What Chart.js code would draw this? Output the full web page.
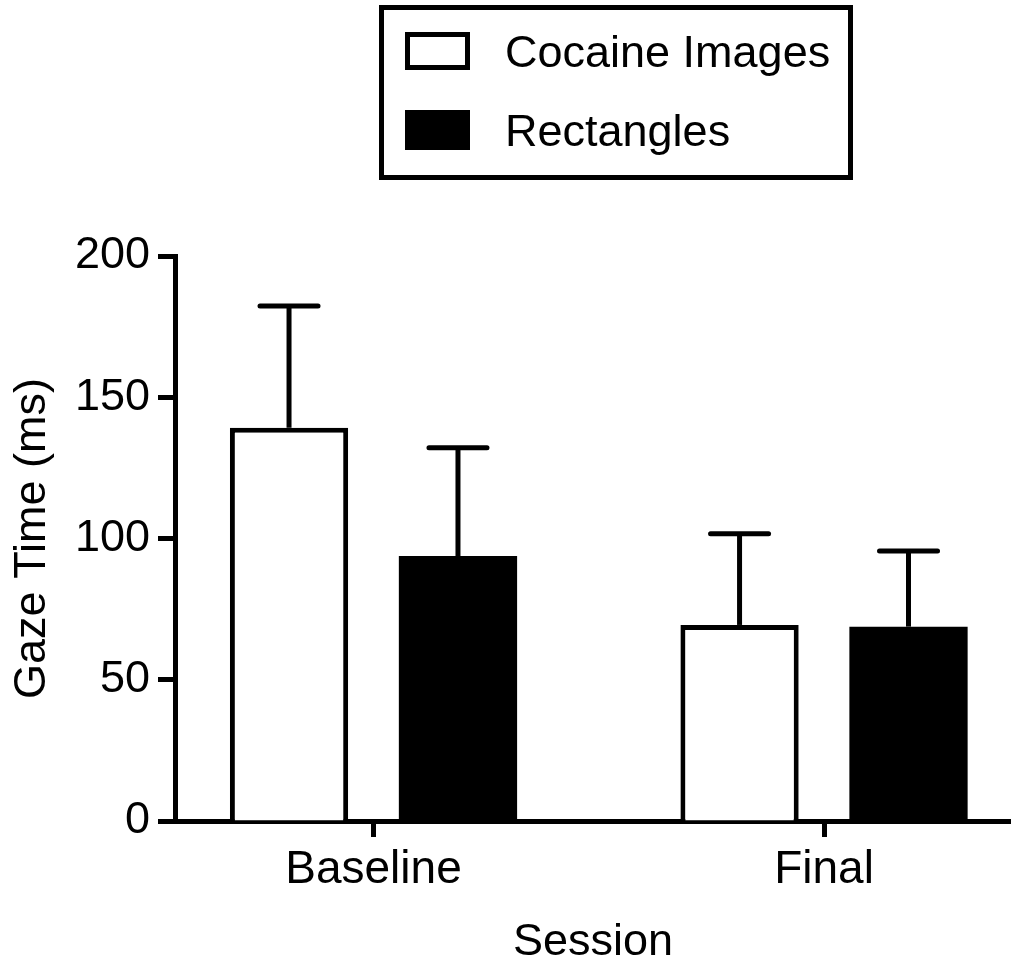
<!DOCTYPE html>
<html>
<head>
<meta charset="utf-8">
<script src="https://cdn.jsdelivr.net/npm/chart.js@4/dist/chart.umd.min.js"></script>
<style>
  html, body { margin: 0; padding: 0; background: #fff; }
  #wrap { position: relative; width: 1011px; height: 966px; }
  #legend {
    position: absolute; left: 379px; top: 5px; width: 474px; height: 175px;
    border: 5px solid #000; box-sizing: border-box;
  }
  .swatch { position: absolute; left: 21px; width: 65px; box-sizing: border-box; border: 5px solid #000; }
  .lbl {
    position: absolute; left: 121px; font-family: "Liberation Sans", Arial, sans-serif;
    font-size: 45px; line-height: 45px; white-space: nowrap; color: #000;
  }
</style>
</head>
<body>
<div id="wrap">
  <canvas id="gazeChart" width="1011" height="966"></canvas>
  <div id="legend"></div>
</div>
<script>
const categories = ['Baseline', 'Final'];
const seriesNames = ['Cocaine Images', 'Rectangles'];
const cocaineMean = [139.2, 69.4];
const cocaineErr = [43.1, 32.3];
const rectMean = [93.8, 68.8];
const rectErr = [38.3, 26.8];
const yTicks = [0, 50, 100, 150, 200];

const FONT = '"Liberation Sans", Arial, sans-serif';

// legend (html, sits above the plot like the original)
const legendEl = document.getElementById('legend');
const swatchStyle = [
  { top: 22, height: 38, bg: '#fff' },
  { top: 100, height: 40, bg: '#000' }
];
const labelTops = [19, 98];
seriesNames.forEach(function (name, i) {
  const sw = document.createElement('div');
  sw.className = 'swatch';
  sw.style.top = swatchStyle[i].top + 'px';
  sw.style.height = swatchStyle[i].height + 'px';
  sw.style.background = swatchStyle[i].bg;
  legendEl.appendChild(sw);
  const t = document.createElement('div');
  t.className = 'lbl';
  t.style.top = labelTops[i] + 'px';
  t.textContent = name;
  legendEl.appendChild(t);
});

const errorBars = {
  id: 'errorBars',
  afterDatasetsDraw(chart) {
    const ctx = chart.ctx;
    const yScale = chart.scales.y;
    const errs = [cocaineErr, rectErr];
    const means = [cocaineMean, rectMean];
    ctx.save();
    ctx.strokeStyle = '#000';
    ctx.lineWidth = 5;
    chart.data.datasets.forEach(function (ds, di) {
      const meta = chart.getDatasetMeta(di);
      meta.data.forEach(function (bar, i) {
        const x = bar.x;
        const yTop = yScale.getPixelForValue(means[di][i]);
        const yErr = yScale.getPixelForValue(means[di][i] + errs[di][i]);
        ctx.lineCap = 'butt';
        ctx.beginPath();
        ctx.moveTo(x, yTop);
        ctx.lineTo(x, yErr);
        ctx.stroke();
        ctx.lineCap = 'round';
        ctx.beginPath();
        ctx.moveTo(x - 29, yErr);
        ctx.lineTo(x + 29, yErr);
        ctx.stroke();
      });
    });
    ctx.restore();
  }
};

const ctx = document.getElementById('gazeChart').getContext('2d');

new Chart(ctx, {
  type: 'bar',
  data: {
    datasets: [{
      label: seriesNames[0],
      data: categories.map(function (c, i) { return { x: i, y: cocaineMean[i] }; }),
      backgroundColor: '#ffffff',
      borderColor: '#000000',
      borderWidth: 5
    }, {
      label: seriesNames[1],
      data: categories.map(function (c, i) { return { x: i, y: rectMean[i] }; }),
      backgroundColor: '#000000',
      borderColor: '#000000',
      borderWidth: 0
    }]
  },
  options: {
    responsive: false,
    animation: false,
    devicePixelRatio: 1,
    categoryPercentage: 0.75,
    barPercentage: 0.7,
    layout: { padding: { top: 256, left: 0, right: 0, bottom: 0 } },
    plugins: {
      legend: { display: false },
      tooltip: { enabled: false }
    },
    scales: {
      x: {
        type: 'linear',
        offset: false,
        min: -0.4406,
        max: 1.415,
        afterBuildTicks: function (scale) {
          scale.ticks = categories.map(function (c, i) { return { value: i }; });
        },
        afterFit: function (scale) { scale.height = 145; },
        grid: {
          display: true,
          offset: false,
          drawOnChartArea: false,
          drawTicks: true,
          tickLength: 16,
          tickWidth: 5,
          tickColor: '#000',
          color: '#000'
        },
        border: { display: true, width: 5, color: '#000' },
        ticks: {
          padding: 6,
          color: '#000',
          font: { family: FONT, size: 46 },
          callback: function (v) { return categories[v]; }
        },
        title: {
          display: true,
          text: 'Session',
          color: '#000',
          font: { family: FONT, size: 45, lineHeight: 1 },
          padding: { top: 0, bottom: 1 }
        }
      },
      y: {
        min: 0,
        max: 200,
        afterBuildTicks: function (scale) {
          scale.ticks = yTicks.map(function (v) { return { value: v }; });
        },
        afterFit: function (scale) { scale.width = 175; },
        grid: {
          display: true,
          drawOnChartArea: false,
          drawTicks: true,
          tickLength: 17,
          tickWidth: 5,
          tickColor: '#000',
          color: '#000'
        },
        border: { display: true, width: 5, color: '#000' },
        ticks: {
          padding: 8,
          color: '#000',
          font: { family: FONT, size: 45 }
        },
        title: {
          display: true,
          text: 'Gaze Time (ms)',
          color: '#000',
          font: { family: FONT, size: 45, lineHeight: 1 },
          padding: { top: 10, bottom: 0 }
        }
      }
    }
  },
  plugins: [errorBars]
});
</script>
</body>
</html>
